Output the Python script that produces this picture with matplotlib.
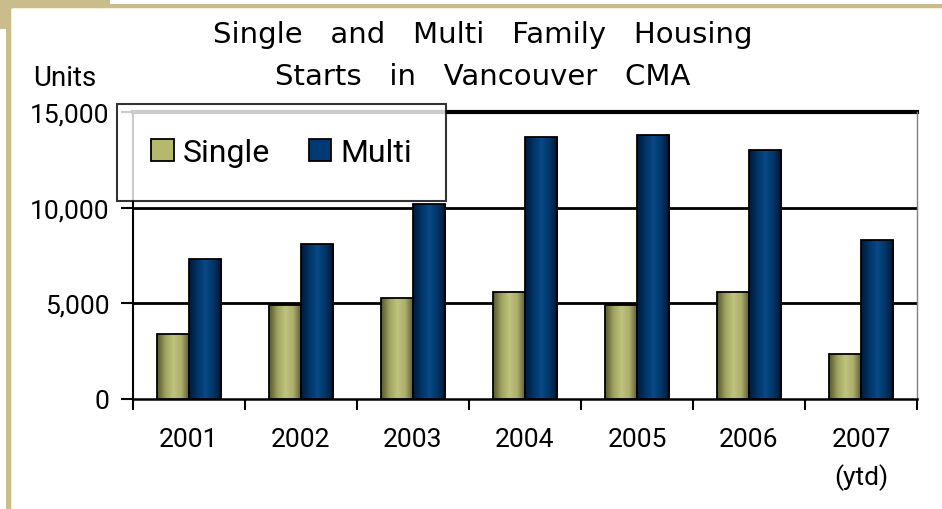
import matplotlib
matplotlib.use("Agg")
import matplotlib.pyplot as plt
import numpy as np
from matplotlib.patches import Rectangle
from matplotlib.colors import LinearSegmentedColormap

# data
years = ["2001", "2002", "2003", "2004", "2005", "2006", "2007\n(ytd)"]
single = [3400, 4900, 5300, 5600, 4900, 5600, 2350]
multi = [7300, 8100, 10200, 13700, 13800, 13000, 8300]
yticks = [0, 5000, 10000, 15000]

plt.rcParams['font.family'] = ['Roboto', 'DejaVu Sans']

W, H = 942, 510
fig = plt.figure(figsize=(W / 100, H / 100), dpi=100)
fig.patch.set_facecolor("white")

# beige frame pieces (pixel boxes -> figure fraction)
beige = "#cbbd8b"
def px_rect(x0, y0, x1, y1, color):
    fig.add_artist(Rectangle((x0 / W, 1 - y1 / H), (x1 - x0) / W, (y1 - y0) / H,
                             transform=fig.transFigure, color=color, lw=0, zorder=0))
px_rect(6, 0, 11, H, beige)
px_rect(0, 0, 11, 30, beige)
px_rect(0, 0, 110, 10, beige)
px_rect(110, 5, W, 9, beige)
px_rect(11, 10, 12, H, "#f3eed8")
px_rect(12, 9, W, 10, "#f3eed8")

ax = fig.add_axes([133 / W, 110 / H, (917 - 133) / W, (400 - 113) / H])

x = np.arange(len(years))
w = 0.286
b1 = ax.bar(x - w / 2, single, w, color="#b5b96e", edgecolor="black", linewidth=1.3, zorder=3)
b2 = ax.bar(x + w / 2, multi, w, color="#003a75", edgecolor="black", linewidth=1.3, zorder=3)

# cylinder-like shading on each bar
cm_single = LinearSegmentedColormap.from_list("s", ["#55582e", "#9da15c", "#c0c47e", "#a9ad68", "#55572d"])
cm_multi = LinearSegmentedColormap.from_list("m", ["#00183a", "#003566", "#0a4888", "#003566", "#001634"])
grad = np.linspace(0, 1, 64).reshape(1, -1)
for bars, cm in ((b1, cm_single), (b2, cm_multi)):
    for p in bars:
        x0, y0 = p.get_x(), p.get_y()
        im = ax.imshow(grad, cmap=cm, aspect="auto", zorder=3.5,
                       extent=(x0, x0 + p.get_width(), y0, y0 + p.get_height()))
        im.set_clip_path(p)
        p.set_facecolor("none")
        p.set_zorder(4)

ax.set_xlim(-0.5, len(years) - 0.5)
ax.set_ylim(0, 15000)
ax.set_yticks(yticks)
ax.set_yticklabels([f"{v:,}" for v in yticks], fontsize=19)
ax.set_xticks(x)
ax.set_xticklabels(years, fontsize=19, linespacing=1.6, va="top")
ax.set_xticks(np.arange(len(years) + 1) - 0.5, minor=True)
ax.tick_params(axis="x", which="major", length=0, pad=20)
ax.tick_params(axis="x", which="minor", length=8, width=1.5, direction="out")
ax.tick_params(axis="y", length=9, width=1.5, pad=8)

for v in yticks[1:-1]:
    ax.axhline(v, color="black", linewidth=2, zorder=1)
ax.axhline(yticks[-1], color="black", linewidth=3, zorder=1, clip_on=False)
ax.spines["left"].set_linewidth(1.5)
ax.spines["bottom"].set_linewidth(1.8)
ax.spines["top"].set_visible(False)
ax.spines["right"].set_color("#808080")
ax.spines["right"].set_linewidth(1)

fig.text(33 / W, 1 - 78 / H, "Units", fontsize=20, ha="left", va="center")

leg = fig.legend([b1, b2], ["Single", "Multi"], loc="upper left",
                 bbox_to_anchor=(117 / W, 1 - 105 / H), bbox_transform=fig.transFigure,
                 borderaxespad=0, fontsize=23, frameon=True, fancybox=False, ncol=2,
                 handlelength=0.7, handleheight=0.7, columnspacing=1.2, borderpad=1.07,
                 handletextpad=0.3)
leg.get_frame().set_edgecolor("black")
leg.get_frame().set_linewidth(1.5)
leg.set_zorder(10)
for h, c in zip(leg.legend_handles, ["#b5b96e", "#003a75"]):
    h.set_facecolor(c)
    h.set_edgecolor("black")

title_font = ["DejaVu Sans"]
fig.text(483 / W, 1 - 35 / H, "Single   and   Multi   Family   Housing", ha="center", va="center",
         fontsize=21, family=title_font)
fig.text(483 / W, 1 - 77 / H, "Starts   in   Vancouver   CMA", ha="center", va="center",
         fontsize=21, family=title_font)

fig.savefig("out.png", dpi=100)
